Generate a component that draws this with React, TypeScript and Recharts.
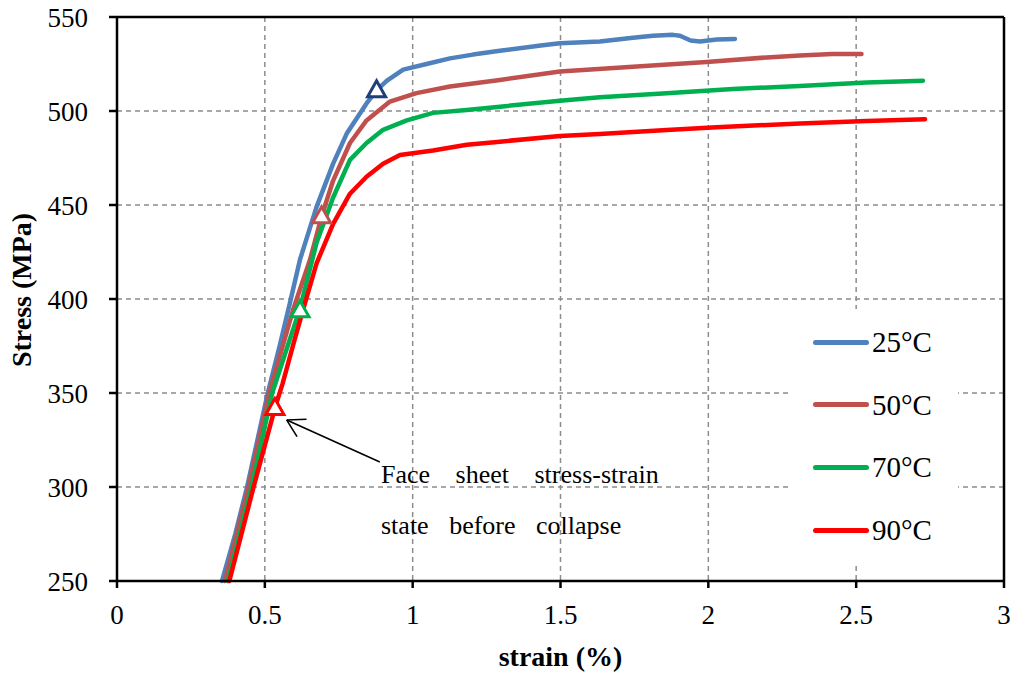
import {
  ComposedChart, Line, Scatter, XAxis, YAxis, CartesianGrid, ReferenceLine,
} from "recharts";

const FONT = '"Liberation Serif", "Times New Roman", Times, serif';

// strain (%) / stress (MPa) readings per test temperature
const strain25 = [0.355, 0.4, 0.44, 0.475, 0.51, 0.55, 0.585, 0.619, 0.675, 0.731, 0.777, 0.844, 0.878, 0.912, 0.968, 1.047, 1.126, 1.204, 1.295, 1.44, 1.498, 1.633, 1.745, 1.813, 1.88, 1.904, 1.94, 1.972, 2.028, 2.09];
const stress25 = [250, 275, 300, 325, 350, 375, 398, 421, 449, 472, 488, 504, 511, 516, 522, 525, 528, 530, 532, 535, 536, 537, 539, 540, 540.5, 540, 537.5, 537, 538, 538.3];

const strain50 = [0.365, 0.445, 0.515, 0.595, 0.653, 0.692, 0.731, 0.788, 0.844, 0.923, 1.013, 1.126, 1.295, 1.498, 1.745, 1.994, 2.197, 2.31, 2.42, 2.518];
const stress50 = [250, 300, 350, 394, 421, 444, 463, 483, 495, 505, 509.5, 513, 516.5, 521, 523.5, 526, 528.5, 529.5, 530.3, 530.3];

const strain70 = [0.375, 0.455, 0.525, 0.619, 0.675, 0.731, 0.788, 0.844, 0.9, 0.98, 1.069, 1.183, 1.295, 1.498, 1.633, 1.859, 2.083, 2.31, 2.535, 2.726];
const stress70 = [250, 300, 350, 395, 430, 454, 474, 483, 490, 495, 499, 500.5, 502.3, 505.5, 507.3, 509.4, 511.7, 513.3, 515.1, 516.1];

const strain90 = [0.38, 0.462, 0.534, 0.56, 0.6, 0.64, 0.675, 0.731, 0.788, 0.844, 0.9, 0.957, 1.069, 1.183, 1.295, 1.498, 1.633, 1.859, 2.028, 2.31, 2.535, 2.733];
const stress90 = [250, 300, 342, 355, 378, 400, 419, 440, 456, 465, 472, 476.6, 479, 482, 483.7, 486.7, 487.8, 489.9, 491.3, 493.4, 494.7, 495.6];

// face sheet state just before collapse (one point per temperature)
const collapseStrain = [0.878, 0.692, 0.619, 0.534];
const collapseStress = [511, 444, 394, 342];

const labels = ["25°C", "50°C", "70°C", "90°C"];
const xTicks = [0, 0.5, 1, 1.5, 2, 2.5, 3];
const yTicks = [250, 300, 350, 400, 450, 500, 550];

const lineColors = ["#4F81BD", "#C0504D", "#00B050", "#FF0000"];
const markColors = ["#1F3F77", "#C0504D", "#00B050", "#FF0000"];

const pairs = (xs: number[], ys: number[]) => xs.map((x, i) => ({ strain: x, stress: ys[i] }));

const series = [
  pairs(strain25, stress25),
  pairs(strain50, stress50),
  pairs(strain70, stress70),
  pairs(strain90, stress90),
];

const Triangulo = (color: string) => (props: any) => {
  const { cx, cy } = props;
  if (cx == null || cy == null) return null;
  return (
    <polygon
      points={`${cx},${cy - 9.5} ${cx - 9},${cy + 6.5} ${cx + 9},${cy + 6.5}`}
      fill="#fff"
      stroke={color}
      strokeWidth={3}
    />
  );
};

function EtiquetaY(props: any) {
  const vb = props.viewBox ?? { x: 0, y: 17, height: 564 };
  const x = vb.x + 31;
  const y = vb.y + vb.height / 2 - 9;
  return (
    <text
      x={x}
      y={y}
      transform={`rotate(-90, ${x}, ${y})`}
      textAnchor="middle"
      fontFamily={FONT}
      fontWeight="bold"
      fontSize={28}
      fill="#000"
    >
      Stress (MPa)
    </text>
  );
}

function Leyenda() {
  return (
    <div style={{ position: "absolute", left: 790, top: 309, width: 168, height: 254, background: "#fff" }}>
      {labels.map((l, i) => (
        <div
          key={l}
          style={{ position: "absolute", left: 0, top: 33 + i * 62.7 - 17, height: 34, display: "flex", alignItems: "center" }}
        >
          <div style={{ marginLeft: 23, width: 56, height: 5, borderRadius: 3, background: lineColors[i] }} />
          <span style={{ marginLeft: 3, fontFamily: FONT, fontSize: 29, color: "#000", lineHeight: "34px" }}>{l}</span>
        </div>
      ))}
    </div>
  );
}

export default function App() {
  return (
    <div style={{ position: "relative", width: 1015, height: 677, background: "#fff", fontFamily: FONT, overflow: "hidden" }}>
      <style>{"html, body { margin: 0; padding: 0; overflow: hidden; }"}</style>
      <ComposedChart
        width={1015}
        height={677}
        margin={{ top: 17, right: 11, bottom: 0, left: 0 }}
      >
        <CartesianGrid stroke="#8c8c8c" strokeWidth={1.5} strokeDasharray="5 4" />
        <XAxis
          type="number"
          dataKey="strain"
          domain={[0, 3]}
          ticks={xTicks}
          height={96}
          stroke="#000"
          strokeWidth={2.5}
          tickSize={7}
          tickMargin={17}
          tick={{ fill: "#000", fontSize: 27, fontFamily: FONT }}
          label={{ value: "strain (%)", position: "insideBottom", offset: 11, fill: "#000", fontSize: 28, fontWeight: "bold", fontFamily: FONT }}
        />
        <YAxis
          type="number"
          dataKey="stress"
          domain={[250, 550]}
          ticks={yTicks}
          width={117}
          stroke="#000"
          strokeWidth={2.5}
          tickSize={8}
          tickMargin={21}
          tick={{ fill: "#000", fontSize: 27, fontFamily: FONT }}
          label={<EtiquetaY />}
        />
        <ReferenceLine y={550} stroke="#000" strokeWidth={2.5} />
        <ReferenceLine x={3} stroke="#000" strokeWidth={2.5} />

        {series.map((d, i) => (
          <Line
            key={labels[i]}
            data={d}
            dataKey="stress"
            name={labels[i]}
            type="linear"
            stroke={lineColors[i]}
            strokeWidth={4.5}
            strokeLinecap="round"
            strokeLinejoin="round"
            dot={false}
            activeDot={false}
            isAnimationActive={false}
          />
        ))}

        {collapseStrain.map((s, i) => (
          <Scatter
            key={"c" + i}
            data={[{ strain: s, stress: collapseStress[i] }]}
            dataKey="stress"
            shape={Triangulo(markColors[i])}
            isAnimationActive={false}
          />
        ))}

        {/* arrow pointing at the 90°C collapse point */}
        <ReferenceLine segment={[{ x: 0.889, y: 313.3 }, { x: 0.574, y: 335.6 }]} stroke="#000" strokeWidth={1.6} />
        <ReferenceLine segment={[{ x: 0.574, y: 335.6 }, { x: 0.641, y: 336.0 }]} stroke="#000" strokeWidth={1.6} />
        <ReferenceLine segment={[{ x: 0.574, y: 335.6 }, { x: 0.609, y: 326.8 }]} stroke="#000" strokeWidth={1.6} />
      </ComposedChart>

      <Leyenda />

      <svg
        width={1015}
        height={677}
        style={{ position: "absolute", left: 0, top: 0, pointerEvents: "none" }}
      >
        <text x={381} y={483} fontFamily={FONT} fontSize={26} wordSpacing={19} fill="#000">
          Face sheet stress-strain
        </text>
        <text x={381} y={534} fontFamily={FONT} fontSize={26} wordSpacing={14} fill="#000">
          state before collapse
        </text>
      </svg>
    </div>
  );
}
